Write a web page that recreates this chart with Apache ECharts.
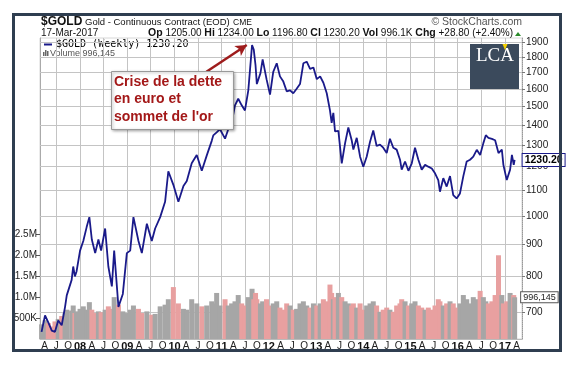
<!DOCTYPE html>
<html><head><meta charset="utf-8">
<script src="https://cdn.jsdelivr.net/npm/echarts@6/dist/echarts.min.js"></script>
<style>html,body{margin:0;padding:0;background:#fff}#c{width:583px;height:367px}</style>
</head><body><div id="c"></div>
<script>
// ---- data (weekly gold, sampled) ----
const dates = [
 '2007-03-09','2007-04-05','2007-04-30','2007-05-27','2007-06-21','2007-07-16','2007-08-12','2007-09-07','2007-09-20','2007-10-28','2007-11-09','2007-11-22','2007-12-05',
 '2008-01-01','2008-01-26','2008-02-21','2008-03-13','2008-04-01','2008-04-27','2008-05-22','2008-06-12','2008-07-13','2008-08-07','2008-09-03','2008-09-21','2008-10-24','2008-11-27','2008-12-28',
 '2009-01-23','2009-02-17','2009-03-28','2009-04-23','2009-06-01','2009-07-09','2009-08-04','2009-09-12','2009-10-20','2009-11-14','2009-12-23',
 '2010-01-31','2010-03-11','2010-04-06','2010-05-14','2010-06-22','2010-07-31','2010-09-07','2010-10-16','2010-10-28','2010-11-23','2010-12-19',
 '2011-01-27','2011-02-21','2011-03-19','2011-04-14','2011-05-09','2011-06-05','2011-06-30','2011-07-26','2011-08-24','2011-09-06','2011-09-20','2011-09-30','2011-10-28','2011-11-14','2011-12-14',
 '2012-01-10','2012-02-04','2012-03-02','2012-03-27','2012-04-22','2012-05-18','2012-06-13','2012-07-08','2012-08-03','2012-08-29','2012-09-24','2012-10-20','2012-11-15','2012-12-11',
 '2013-01-06','2013-02-01','2013-02-26','2013-03-24','2013-04-18','2013-05-01','2013-05-14','2013-05-27','2013-06-22','2013-07-18','2013-08-13','2013-09-07','2013-10-03','2013-10-16','2013-11-11','2013-12-07',
 '2014-01-01','2014-01-27','2014-02-22','2014-03-19','2014-04-14','2014-05-10','2014-06-04','2014-07-01','2014-07-26','2014-08-21','2014-09-16','2014-10-12','2014-10-25','2014-11-20','2014-12-16',
 '2015-01-11','2015-02-05','2015-03-03','2015-03-29','2015-04-24','2015-05-19','2015-06-15','2015-07-10','2015-08-04','2015-08-17','2015-09-12','2015-10-08','2015-11-03','2015-11-28','2015-12-24',
 '2016-01-19','2016-02-14','2016-03-11','2016-04-06','2016-05-01','2016-05-28','2016-06-23','2016-07-18','2016-08-06','2016-08-26','2016-09-22','2016-10-17','2016-11-12','2016-12-08','2016-12-20',
 '2017-01-15','2017-02-10','2017-02-24','2017-03-10','2017-03-17'
];
const prices = [
 652,693,675,655,652,680,668,715,746,790,830,800,815,
 880,912,960,996,917,872,917,880,955,830,771,880,715,750,872,
 880,996,912,872,972,912,955,996,1054,1180,1122,
 1054,1117,1138,1215,1253,1182,1250,1320,1347,1362,1378,
 1331,1378,1411,1505,1542,1505,1477,1591,1880,1850,1744,1628,1695,1783,1658,
 1566,1703,1758,1675,1643,1585,1591,1574,1600,1628,1758,1768,1722,1731,
 1658,1675,1636,1574,1477,1411,1464,1367,1370,1215,1309,1387,1323,1278,1335,1245,
 1200,1245,1316,1372,1295,1302,1287,1262,1330,1287,1278,1231,1187,1223,1182,
 1215,1287,1231,1187,1208,1200,1192,1171,1142,1094,1150,1115,1159,1080,1067,
 1087,1159,1223,1231,1245,1277,1253,1309,1348,1335,1330,1323,1262,1278,1208,
 1142,1187,1253,1208,1230.20
];
const volumes = [ // millions
 0.35,0.45,0.38,0.30,0.42,0.48,0.55,0.62,0.70,0.68,0.80,0.62,0.66,
 0.72,0.78,0.70,0.88,0.70,0.62,0.66,0.64,0.70,0.78,0.72,1.00,0.82,0.66,0.62,
 0.70,0.80,0.72,0.62,0.66,0.58,0.60,0.78,0.82,0.95,1.24,
 0.85,0.72,0.70,0.95,0.85,0.78,0.80,0.90,0.85,1.10,0.80,
 0.95,0.80,0.85,0.90,1.05,0.85,0.80,1.00,1.20,0.95,1.10,0.95,0.85,0.90,0.95,
 0.80,0.85,0.90,0.75,0.70,0.85,0.80,0.70,0.72,0.85,0.90,0.80,0.75,0.85,
 0.80,0.85,0.95,0.90,1.30,1.10,0.95,1.00,1.10,1.00,0.90,0.85,0.80,0.85,0.75,0.85,
 0.70,0.80,0.85,0.90,0.80,0.65,0.70,0.75,0.70,0.65,0.80,0.85,0.95,0.90,0.80,
 0.85,0.90,0.80,0.75,0.70,0.75,0.70,0.80,0.95,0.90,0.80,0.85,0.90,0.85,0.75,
 0.85,1.05,0.95,0.85,1.00,0.95,1.15,1.00,0.90,0.85,0.90,1.05,2.00,1.05,0.85,
 0.90,1.10,0.95,1.05,0.996145
];
const priceTicks = [700,800,900,1000,1100,1200,1300,1400,1500,1600,1700,1800,1900];
const volumeTicks = [500000,1000000,1500000,2000000,2500000];
const volumeTickLabels = ['500K','1.0M','1.5M','2.0M','2.5M'];
const quarterLetters = {3:'A',6:'J',9:'O'};
const years = [2007,2008,2009,2010,2011,2012,2013,2014,2015,2016,2017];
const gridMonths = [0,6];

const ts = s => { const p = s.split('-').map(Number); return Date.UTC(p[0], p[1]-1, p[2]); };
const xLabelValues = [];
const xGridValues = [];
years.forEach(y => {
  [0,3,6,9].forEach(m => { xLabelValues.push(Date.UTC(y,m,1)); });
  gridMonths.forEach(m => xGridValues.push(Date.UTC(y,m,1)));
});
const xMin = ts('2007-02-25'), xMax = ts('2017-05-13');
const yMin = Math.log(635), yMax = Math.log(1930);
const inRange = v => v >= xMin && v <= xMax;

const priceData = dates.map((d,i) => [ts(d), Math.log(prices[i])]);
const volData = dates.map((d,i) => {
  const down = i > 0 && prices[i] < prices[i-1];
  const item = { value: [ts(d), volumes[i]*1e6], itemStyle: { color: down ? '#e8a0a0' : '#a6a6a6' } };
  if (i === dates.length - 1) {
    item.label = { show: true, position: ['100%', 0], offset: [4, 0], verticalAlign: 'middle', align: 'left',
      formatter: () => Math.round(volumes[i]*1e6).toLocaleString('en-US'),
      fontSize: 9, color: '#222', backgroundColor: '#fff', borderColor: '#555', borderWidth: 1, padding: [1,2,0,2] };
  }
  return item;
});
const GRID_STYLE = { color: '#c4c4c4', width: 1, type: 'solid', opacity: 1 };
const gridLines = xGridValues.filter(inRange).map(v => [{ coord: [v, yMin], lineStyle: GRID_STYLE }, { coord: [v, yMax] }])
  .concat(priceTicks.map(p => [{ coord: [xMin, Math.log(p)], lineStyle: GRID_STYLE }, { coord: [xMax, Math.log(p)] }]));
const arrowLine = [
  { coord: [ts('2010-09-05'), Math.log(1704)], symbol: 'none', lineStyle: { color: '#9e1c1c', width: 2.5, type: 'solid' } },
  { coord: [ts('2011-07-14'), Math.log(1881)], symbol: 'arrow', symbolSize: [9, 11], itemStyle: { color: '#9e1c1c' } }
];

const chart = echarts.init(document.getElementById('c'), null, {renderer: 'canvas'});
const FONT = 'Arial, "Liberation Sans", sans-serif';
chart.setOption({
  animation: false,
  textStyle: { fontFamily: FONT },
  grid: { left: 40, right: 61, top: 38, bottom: 28, show: true, borderColor: '#d6d6d6', borderWidth: 1, backgroundColor: 'transparent' },
  xAxis: {
    type: 'value', min: xMin, max: xMax,
    axisLine: { show: true, lineStyle: { color: '#bbb' } },
    axisTick: { show: false },
    splitLine: { show: false },
    axisLabel: {
      customValues: xLabelValues.filter(inRange), margin: 2, fontSize: 10, color: '#222',
      hideOverlap: false,
      formatter: v => { const d = new Date(v); const m = d.getUTCMonth();
        return m === 0 ? '{b|' + String(d.getUTCFullYear()).slice(2) + '}' : quarterLetters[m]; },
      rich: { b: { fontWeight: 'bold', fontSize: 11, color: '#111' } }
    }
  },
  yAxis: [
    { type: 'value', position: 'right', min: yMin, max: yMax,
      axisLine: { show: true, lineStyle: { color: '#999', type: 'dotted' } },
      axisTick: { show: true, length: 3, customValues: priceTicks.map(Math.log), lineStyle: { color: '#777' } },
      splitLine: { show: false },
      axisLabel: { customValues: priceTicks.map(Math.log), formatter: v => String(Math.round(Math.exp(v))), fontSize: 10, color: '#222', margin: 4 } },
    { type: 'value', position: 'left', min: 0, max: 7.19e6,
      axisLine: { show: true, lineStyle: { color: '#aaa' } },
      axisTick: { show: true, length: 4, customValues: volumeTicks, lineStyle: { color: '#555' } },
      splitLine: { show: false },
      axisLabel: { customValues: volumeTicks, formatter: v => volumeTickLabels[volumeTicks.indexOf(Math.round(v))] || '', fontSize: 10, color: '#222', margin: 3 } }
  ],
  series: [
    { type: 'bar', yAxisIndex: 1, data: volData, barWidth: 5, z: 2, silent: true },
    { type: 'line', yAxisIndex: 0, data: priceData, z: 3, showSymbol: false, silent: true,
      lineStyle: { color: '#1a1a8a', width: 1.8 },
      endLabel: { show: true, formatter: () => prices[prices.length-1].toFixed(2), distance: 8,
        fontSize: 10.5, fontWeight: 'bold', color: '#000', backgroundColor: '#fff', borderColor: '#1a1a8a', borderWidth: 1, padding: [1,2,0,2] },
      markLine: { silent: true, z: 1, symbol: ['none','none'], label: { show: false },
        lineStyle: { color: '#c4c4c4', width: 1, type: 'solid', opacity: 1 },
        data: gridLines.concat([arrowLine]) } }
  ],
  graphic: [
    { type: 'rect', shape: { x: 13.5, y: 14.5, width: 547, height: 336 }, style: { fill: 'none', stroke: '#2f3e50', lineWidth: 3 }, z: 100 },
    { type: 'text', x: 41, y: 22, style: { text: '$GOLD', font: 'bold 12px Arial', fill: '#111', verticalAlign: 'middle' } },
    { type: 'text', x: 85, y: 22, style: { text: 'Gold - Continuous Contract (EOD)', font: '9.5px Arial', fill: '#111', verticalAlign: 'middle' } },
    { type: 'text', x: 233, y: 22.5, style: { text: 'CME', font: '8.5px Arial', fill: '#111', verticalAlign: 'middle' } },
    { type: 'text', x: 41, y: 33.5, style: { text: '17-Mar-2017', font: '10px Arial', fill: '#111', verticalAlign: 'middle' } },
    { type: 'text', x: 513, y: 33.5, style: {
        text: '{b|Op} 1205.00 {b|Hi} 1234.00 {b|Lo} 1196.80 {b|Cl} 1230.20 {b|Vol} 996.1K {b|Chg} +28.80 (+2.40%)',
        font: '10px Arial', fill: '#111', align: 'right', verticalAlign: 'middle',
        rich: { b: { fontWeight: 'bold', fontSize: 10.5, fill: '#111' } } } },
    { type: 'polygon', shape: { points: [[515,36],[521,36],[518,32]] }, style: { fill: '#2a8a2a' } },
    { type: 'text', x: 522, y: 22, style: { text: '\u00A9 StockCharts.com', font: '10.5px Arial', fill: '#555', align: 'right', verticalAlign: 'middle' } },
    { type: 'line', shape: { x1: 44, y1: 44.5, x2: 52, y2: 44.5 }, style: { stroke: '#1a1a8a', lineWidth: 2 } },
    { type: 'text', x: 56, y: 44.5, style: { text: '$GOLD (Weekly) 1230.20', font: '10px "DejaVu Sans Mono", monospace', fill: '#000', verticalAlign: 'middle' } },
    { type: 'rect', shape: { x: 43, y: 52, width: 1.5, height: 4 }, style: { fill: '#666' } },
    { type: 'rect', shape: { x: 45, y: 50, width: 1.5, height: 6 }, style: { fill: '#666' } },
    { type: 'rect', shape: { x: 47, y: 51, width: 1.5, height: 5 }, style: { fill: '#666' } },
    { type: 'text', x: 50, y: 54, style: { text: 'Volume 996,145', font: '9px Arial', fill: '#555', verticalAlign: 'middle' } },
    { type: 'rect', shape: { x: 470, y: 44, width: 49, height: 45 }, style: { fill: '#3b4a5c' }, z: 50 },
    { type: 'text', x: 495, y: 56, z: 51, style: { text: 'LCA', font: '19px "Liberation Serif", serif', fill: '#fff', align: 'center', verticalAlign: 'middle' } },
    { type: 'polygon', z: 52, shape: { points: [[502.5,44],[507.5,44],[505,50]] }, style: { fill: '#f2cf00' } },
    { type: 'rect', z: 60, shape: { x: 111.5, y: 71.5, width: 122, height: 58 }, style: { fill: '#fff', stroke: '#999', lineWidth: 1, shadowBlur: 3, shadowColor: 'rgba(0,0,0,0.35)', shadowOffsetX: 1, shadowOffsetY: 1 } },
    { type: 'text', z: 61, x: 114, y: 73, style: { text: "Crise de la dette\nen euro et\nsommet de l'or", font: 'bold 14px Arial', fill: '#a31818', lineHeight: 17.5, verticalAlign: 'top' } }
  ]
});
</script></body></html>
